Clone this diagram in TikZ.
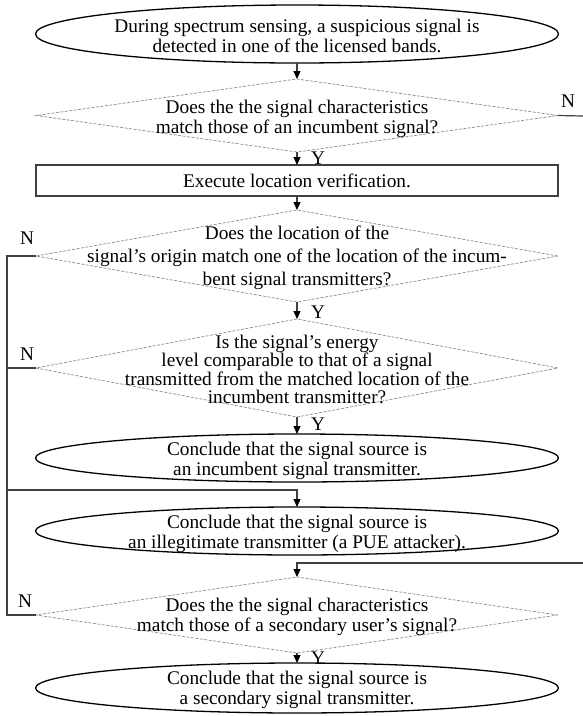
\documentclass[tikz,border=0pt]{standalone}
\usepackage{fontspec}
\setmainfont{Liberation Serif}
\usetikzlibrary{shapes.geometric,arrows.meta}
\begin{document}
\begin{tikzpicture}[x=1pt,y=-1pt,
  term/.style={ellipse, draw=black, line width=1.3pt, minimum width=523pt, inner sep=0pt, outer sep=0pt},
  decide/.style={diamond, draw=black!45, dash pattern=on 3pt off 1.5pt, line width=0.7pt, minimum width=522pt, inner sep=0pt, outer sep=0pt},
  procbox/.style={rectangle, draw=black!75, line width=1.3pt, minimum width=522pt, minimum height=31pt, inner sep=0pt, outer sep=0pt, font=\fontsize{19.3}{20}\selectfont},
  txt/.style={align=center, inner sep=0pt, font=\fontsize{19.3}{20}\selectfont},
  link/.style={draw=black!75, line width=1.2pt},
  arr/.style={link, -{Triangle[length=8pt,width=7pt,color=black]}},
  lbl/.style={inner sep=0pt, font=\fontsize{19.3}{20}\selectfont}
]
\path[use as bounding box, fill=white] (0,0) rectangle (583,716);

% shapes
\node[term, minimum height=58pt] (e1) at (297,34) {};
\node[txt] (t1) at (297,36) {During spectrum sensing, a suspicious signal is\\detected in one of the licensed bands.};

\node[decide, minimum height=73pt] (d1) at (297,115.5) {};
\node[txt] (t2) at (297,118.5) {Does the the signal characteristics\\match those of an incumbent signal?};

\node[procbox] (b1) at (297,180.5) {Execute location verification.};

\node[decide, minimum height=92pt] (d2) at (297,256) {};
\node[txt, font=\fontsize{19.3}{23}\selectfont] (t3) at (297,258) {Does the location of the\\signal’s origin match one of the location of the incum-\\bent signal transmitters?};

\node[decide, minimum height=98pt] (d3) at (297,368) {};
\node[txt, font=\fontsize{19.3}{18.5}\selectfont] (t4) at (297,369.5) {Is the signal’s energy\\level comparable to that of a signal\\transmitted from the matched location of the\\incumbent transmitter?};

\node[term, minimum height=48pt] (e2) at (297,458) {};
\node[txt] (t5) at (297,461) {Conclude that the signal source is\\an incumbent signal transmitter.};

\node[term, minimum height=48pt] (e3) at (297,531) {};
\node[txt] (t6) at (297,534) {Conclude that the signal source is\\an illegitimate transmitter (a PUE attacker).};

\node[decide, minimum height=76pt] (d4) at (297,615) {};
\node[txt] (t7) at (297,617) {Does the the signal characteristics\\match those of a secondary user’s signal?};

\node[term, minimum height=50pt] (e4) at (297,688) {};
\node[txt] (t8) at (297,689.5) {Conclude that the signal source is\\a secondary signal transmitter.};

% routing points
\coordinate (r1) at (583,116);
\coordinate (l2) at (7,256);
\coordinate (l3) at (7,368);
\coordinate (lj) at (7,490);
\coordinate (l4) at (7,615);
\coordinate (rj) at (583,563);

% connectors
\draw[arr] (e1.south) -- (d1.north);
\draw[arr] (d1.south) -- (b1.north);
\draw[arr] (b1.south) -- (d2.north);
\draw[arr] (d2.south) -- (d3.north);
\draw[arr] (d3.south) -- (e2.north);
\draw[link] (d1.east) -- (r1);
\draw[link] (d2.west) -- (l2) -- (l4) -- (d4.west);
\draw[link] (d3.west) -- (l3);
\draw[arr] (lj) -| (e3.north);
\draw[arr] (rj) -| (d4.north);
\draw[arr] (d4.south) -- (e4.north);

% labels
\node[lbl] (n1) at (568,101) {N};
\node[lbl] (n2) at (27,238) {N};
\node[lbl] (n3) at (27,354) {N};
\node[lbl] (n4) at (25,601) {N};
\node[lbl] (y1) at (318,158) {Y};
\node[lbl] (y2) at (318,312) {Y};
\node[lbl] (y3) at (318,424) {Y};
\node[lbl] (y4) at (318,658) {Y};
\end{tikzpicture}
\end{document}
